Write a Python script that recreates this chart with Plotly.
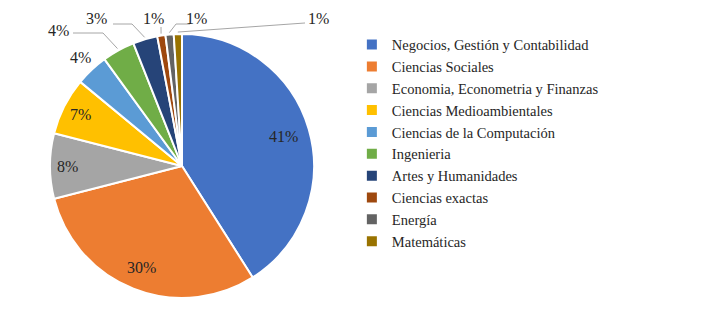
import math
import plotly.graph_objects as go

categories = ["Negocios, Gestión y Contabilidad", "Ciencias Sociales",
              "Economia, Econometria y Finanzas", "Ciencias Medioambientales",
              "Ciencias de la Computación", "Ingenieria", "Artes y Humanidades",
              "Ciencias exactas", "Energía", "Matemáticas"]
values = [41, 30, 8, 7, 4, 4, 3, 1, 1, 1]
colors = ["#4472C4", "#ED7D31", "#A5A5A5", "#FFC000", "#5B9BD5",
          "#70AD47", "#264478", "#9E480E", "#636363", "#997300"]

W, H = 709, 317
OFF = 8                             # page body margin offset
CX, CY, R = 182, 166, 132           # pie centre / radius in page pixels

# label placement (styling): inside -> radius fraction; outside -> pixel anchor + leader elbows
inside_frac = {0: 0.80, 1: 0.83, 2: 0.87, 3: 0.86}
outside_pos = {4: (80, 57, []),
               5: (58, 31, [(73, 33), (103, 33)]),
               6: (96, 18, [(113, 24), (132, 24)]),
               7: (153, 18, [(161, 27)]),
               8: (197, 18, [(190, 24), (176, 24)]),
               9: (318, 18, [(305, 23)])}

def px(x, y):
    return (x - OFF) / W, 1 - (y - OFF) / H

x0, y1 = px(CX - R, CY - R)
x1, y0 = px(CX + R, CY + R)

fig = go.Figure(go.Pie(
    labels=categories, values=values, sort=False, direction="clockwise",
    rotation=0, marker=dict(colors=colors, line=dict(color="white", width=2)),
    textinfo="none", hoverinfo="label+percent",
    domain=dict(x=[x0, x1], y=[y0, y1]),
    automargin=False,
))

total = sum(values)
cum = 0
font = dict(family="Liberation Serif", size=16, color="#262626")
for i, v in enumerate(values):
    mid = (cum + v / 2) / total * 2 * math.pi
    cum += v
    label = f"{round(v / total * 100)}%"
    if i in inside_frac:
        r = R * inside_frac[i]
        ax, ay = px(CX + r * math.sin(mid), CY - r * math.cos(mid))
    else:
        lx, ly, elbows = outside_pos[i]
        ax, ay = px(lx, ly)
        if elbows:
            ex, ey = CX + (R + 2) * math.sin(mid), CY - (R + 2) * math.cos(mid)
            pts = [px(*p) for p in elbows] + [px(ex, ey)]
            path = "M " + " L ".join(f"{a:.4f},{b:.4f}" for a, b in pts)
            fig.add_shape(type="path", path=path, xref="paper", yref="paper",
                          line=dict(color="#A6A6A6", width=1))
    fig.add_annotation(x=ax, y=ay, xref="paper", yref="paper", text=label,
                       xanchor="center", yanchor="middle",
                       showarrow=False, font=font)

fig.update_layout(
    width=W, height=H, margin=dict(l=0, r=0, t=0, b=0),
    paper_bgcolor="white", plot_bgcolor="white",
    legend=dict(x=0.485, y=0.935, xanchor="left", yanchor="top",
                font=dict(family="Liberation Serif", size=14.5, color="#262626"),
                itemwidth=30),
)
fig.write_html("out.html")
